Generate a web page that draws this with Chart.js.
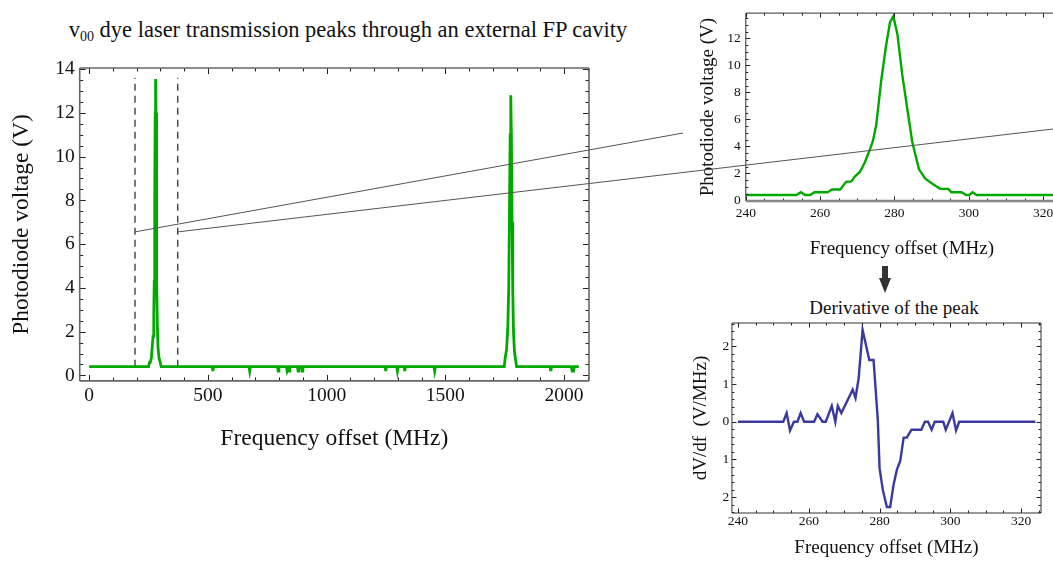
<!DOCTYPE html>
<html>
<head>
<meta charset="utf-8">
<script src="https://cdn.jsdelivr.net/npm/chart.js@4.4.0/dist/chart.umd.min.js"></script>
<style>
  html, body { margin: 0; padding: 0; background: #fff; overflow: hidden; width: 1053px; height: 561px; }
  canvas, .lbl { position: absolute; }
  .lbl { font-family: "Liberation Serif", "Times New Roman", serif; color: #111; text-align: center; white-space: nowrap; }
  .lbl sub { font-size: 14px; line-height: 0; vertical-align: -4px; }
</style>
</head>
<body>
<div class="lbl" style="left:0;top:17px;width:696px;font-size:22.5px;line-height:26px;">v<sub>00</sub> dye laser transmission peaks through an external FP cavity</div>
<div class="lbl" style="left:794px;top:297px;width:200px;font-size:19px;line-height:22px;">Derivative of the peak</div>
<canvas id="mainCanvas" width="600" height="462" style="left:0;top:0"></canvas>
<canvas id="peakCanvas" width="375" height="262" style="left:690px;top:0"></canvas>
<canvas id="derivCanvas" width="363" height="271" style="left:690px;top:290px"></canvas>
<canvas id="overlay" width="1053" height="561" style="left:0;top:0;pointer-events:none"></canvas>
<script>
// full scan (MHz, V)
var mainFreq = [0, 250, 254, 257, 262, 266, 269, 272, 274, 276, 278, 279.7, 281.5, 283, 285, 287, 290, 294, 299, 303,
  518, 521, 524, 673, 676, 679, 793, 796, 799, 831, 834, 838, 842, 845, 877, 880, 883, 894, 897, 900,
  1246, 1249, 1252, 1295, 1298, 1301, 1326, 1329, 1332, 1452, 1455, 1458,
  1748, 1752, 1758, 1763, 1767, 1770, 1773, 1775.5, 1778, 1781, 1784, 1787, 1791, 1796, 1800,
  1941, 1944, 1947, 2031, 2034, 2040, 2043, 2062];
var mainVolt = [0.4, 0.4, 0.6, 0.6, 0.8, 1.4, 1.8, 2.8, 4.3, 8.0, 12.0, 13.55, 12.0, 8.0, 4.3, 2.3, 1.25, 0.8, 0.6, 0.4,
  0.4, 0.2, 0.4, 0.4, 0.2, 0.4, 0.4, 0.2, 0.4, 0.4, 0.2, 0.3, 0.2, 0.4, 0.4, 0.2, 0.4, 0.4, 0.2, 0.4,
  0.4, 0.2, 0.4, 0.4, 0.2, 0.4, 0.4, 0.2, 0.4, 0.4, 0.2, 0.4,
  0.4, 0.8, 1.2, 2.2, 4.0, 7.5, 11.0, 12.8, 11.0, 7.0, 3.8, 2.0, 1.1, 0.7, 0.4,
  0.4, 0.2, 0.4, 0.4, 0.2, 0.2, 0.4, 0.4];
var windowFreq = [193, 373];
var windowVolt = [0.4, 13.6];
var connectorVolt = 6.56;

// zoom on the first peak
var peakFreq = [240, 253.6, 254.8, 256, 257.3, 258.5, 262, 263.2, 265.4, 267, 268.4, 269.4, 270.7, 272, 273.3, 274.2,
  275.1, 276.4, 277.7, 278.8, 279.7, 280.8, 282.1, 283.5, 284.8, 286.6, 288.3, 290.1, 291.2, 292.3, 294.5,
  295.3, 298, 299.3, 300.2, 301, 302.1, 324];
var peakVolt = [0.4, 0.4, 0.6, 0.4, 0.4, 0.6, 0.6, 0.8, 0.8, 1.37, 1.4, 1.78, 2.1, 2.8, 3.7, 4.4,
  5.6, 8.8, 11.4, 13.2, 13.65, 12.3, 9.3, 6.7, 4.3, 2.3, 1.6, 1.25, 1.05, 0.85, 0.85,
  0.6, 0.6, 0.4, 0.4, 0.6, 0.4, 0.4];

// derivative of the peak
var derivFreq = [240, 252.8, 253.75, 254.7, 255.8, 256.8, 257.7, 258.7, 261.5, 262.45, 263.9, 264.8, 266.5, 267.5, 268.2, 269.2,
  272.4, 273.2, 274.1, 275.2, 277.1, 278.3, 279.5, 280, 280.9, 282.05, 283, 283.95, 284.9, 285.85, 286.8, 287.7,
  289, 291.8, 292.8, 293.7, 294.7, 295.6, 298, 298.7, 300.6, 301.6, 302.5, 324];
var derivVal = [0, 0, 0.23, -0.23, 0, 0, 0.23, 0, 0, 0.2, 0, 0, 0.42, 0, 0.42, 0.23,
  0.85, 0.63, 1.16, 2.44, 1.64, 1.64, 0.05, -1.23, -1.8, -2.26, -2.26, -1.67, -1.27, -1.03, -0.42, -0.42,
  -0.21, -0.21, 0, 0, -0.21, 0, 0, -0.21, 0.23, -0.23, 0, 0];

var mainXTicks = [0, 500, 1000, 1500, 2000];
var mainYTicks = [0, 2, 4, 6, 8, 10, 12, 14];
var peakXTicks = [240, 260, 280, 300, 320];
var peakYTicks = [0, 2, 4, 6, 8, 10, 12];
var derivXTicks = [240, 260, 280, 300, 320];
var derivYTicks = [-2, -1, 0, 1, 2];
var derivYTickLabels = ['2', '1', '0', '1', '2'];

var green = '#00a800';
var navy = '#3a3a9e';
var serif = '"Liberation Serif", "Times New Roman", serif';

Chart.defaults.font.family = serif;
Chart.defaults.color = '#111';

function pts(xs, ys) { return xs.map(function (v, i) { return { x: v, y: ys[i] }; }); }
function fixTicks(list) { return function (s) { s.ticks = list.map(function (v) { return { value: v }; }); }; }

// Mathematica-like frame with inward ticks
var frameTicks = {
  id: 'frameTicks',
  afterDatasetsDraw: function (chart, args, o) {
    var ctx = chart.ctx, a = chart.chartArea, x = chart.scales.x, y = chart.scales.y;
    ctx.save();
    ctx.strokeStyle = o.tickColor;
    ctx.lineWidth = 1;
    function line(x0, y0, x1, y1) { ctx.beginPath(); ctx.moveTo(x0, y0); ctx.lineTo(x1, y1); ctx.stroke(); }
    function isMajor(list, v) { return list.some(function (m) { return Math.abs(m - v) < 1e-6; }); }
    for (var i = Math.ceil(x.min / o.xMinor); i * o.xMinor <= x.max; i++) {
      var v = i * o.xMinor, px = Math.round(x.getPixelForValue(v)) + 0.5;
      var len = isMajor(o.xMajor, v) ? o.majorLen : o.minorLen;
      if (o.sides.indexOf('b') >= 0) line(px, a.bottom, px, a.bottom - len);
      if (o.sides.indexOf('t') >= 0) line(px, a.top, px, a.top + len);
    }
    for (var j = Math.ceil(y.min / o.yMinor - 1e-9); j * o.yMinor <= y.max + 1e-9; j++) {
      var w = j * o.yMinor, py = Math.round(y.getPixelForValue(w)) + 0.5;
      var len2 = isMajor(o.yMajor, w) ? o.majorLen : o.minorLen;
      if (o.sides.indexOf('l') >= 0) line(a.left, py, a.left + len2, py);
      if (o.sides.indexOf('r') >= 0) line(a.right, py, a.right - len2, py);
    }
    ctx.strokeStyle = o.frameColor;
    ctx.lineWidth = o.frameWidth;
    if (o.sides.indexOf('l') >= 0) line(a.left, a.top, a.left, a.bottom);
    if (o.sides.indexOf('t') >= 0) line(a.left, a.top, a.right, a.top);
    if (o.sides.indexOf('r') >= 0) line(a.right, a.top, a.right, a.bottom);
    if (o.sides.indexOf('b') >= 0) {
      ctx.lineWidth = o.bottomWidth || o.frameWidth;
      ctx.strokeStyle = o.bottomColor || o.frameColor;
      line(a.left, a.bottom, a.right, a.bottom);
    }
    ctx.restore();
  }
};

function axis(min, max, ticks, tickSize, tickPad, title, titleSize, titlePad, labels) {
  return {
    type: 'linear', min: min, max: max,
    afterBuildTicks: fixTicks(ticks),
    grid: { display: false, drawTicks: false },
    border: { display: false },
    ticks: {
      font: { size: tickSize }, padding: tickPad, color: '#111', autoSkip: false, maxRotation: 0,
      callback: function (v) { return labels ? labels[ticks.indexOf(v)] : String(v); }
    },
    title: { display: true, text: title, font: { size: titleSize }, color: '#111', padding: titlePad }
  };
}

var mainChart = new Chart(document.getElementById('mainCanvas'), {
  type: 'line',
  data: {
    datasets: [
      { data: pts(mainFreq, mainVolt), borderColor: green, borderWidth: 2.8, pointRadius: 0, tension: 0 },
      { data: pts([windowFreq[0], windowFreq[0]], windowVolt), borderColor: '#222', borderWidth: 1.2, borderDash: [7, 5], pointRadius: 0 },
      { data: pts([windowFreq[1], windowFreq[1]], windowVolt), borderColor: '#222', borderWidth: 1.2, borderDash: [7, 5], pointRadius: 0 }
    ]
  },
  options: {
    responsive: false, animation: false,
    layout: { padding: { left: 0, right: 11, top: 68, bottom: 9.5 } },
    plugins: {
      legend: { display: false }, tooltip: { enabled: false },
      frameTicks: { sides: 'lbtr', xMinor: 100, yMinor: 0.5, xMajor: mainXTicks, yMajor: mainYTicks,
        majorLen: 6, minorLen: 3.5, tickColor: '#222', frameColor: '#666', frameWidth: 1.6 }
    },
    scales: {
      x: axis(-40, 2105, mainXTicks, 19.5, 3, 'Frequency offset (MHz)', 23.5, { top: 14, bottom: 0 }),
      y: axis(-0.25, 14.05, mainYTicks, 19.5, 5, 'Photodiode voltage (V)', 23.5, { top: 8, bottom: 14 })
    }
  },
  plugins: [frameTicks]
});

var peakChart = new Chart(document.getElementById('peakCanvas'), {
  type: 'line',
  data: { datasets: [{ data: pts(peakFreq, peakVolt), borderColor: green, borderWidth: 2.4, pointRadius: 0, tension: 0 }] },
  options: {
    responsive: false, animation: false,
    layout: { padding: { left: 0, right: 7, top: 9, bottom: 1.5 } },
    plugins: {
      legend: { display: false }, tooltip: { enabled: false },
      frameTicks: { sides: 'ltb', xMinor: 5, yMinor: 0.5, xMajor: peakXTicks, yMajor: peakYTicks,
        majorLen: 4.5, minorLen: 2.5, tickColor: '#222', frameColor: '#333', frameWidth: 1,
        bottomWidth: 2.5, bottomColor: '#888' }
    },
    scales: {
      x: axis(240, 324, peakXTicks, 13.5, 4, 'Frequency offset (MHz)', 19, { top: 12.5, bottom: 0 }),
      y: axis(-0.05, 13.88, peakYTicks, 13.5, 5, 'Photodiode voltage (V)', 19, { top: 6.5, bottom: 3 })
    }
  },
  plugins: [frameTicks]
});

var derivChart = new Chart(document.getElementById('derivCanvas'), {
  type: 'line',
  data: { datasets: [{ data: pts(derivFreq, derivVal), borderColor: navy, borderWidth: 2.4, pointRadius: 0, tension: 0 }] },
  options: {
    responsive: false, animation: false,
    layout: { padding: { left: 0, right: 12, top: 33, bottom: 1.5 } },
    plugins: {
      legend: { display: false }, tooltip: { enabled: false },
      frameTicks: { sides: 'lbtr', xMinor: 5, yMinor: 0.2, xMajor: derivXTicks, yMajor: derivYTicks,
        majorLen: 4.5, minorLen: 2.5, tickColor: '#222', frameColor: '#333', frameWidth: 1 }
    },
    scales: {
      x: axis(238.3, 325.6, derivXTicks, 13.5, 0, 'Frequency offset (MHz)', 19, { top: 7.5, bottom: 0 }),
      y: axis(-2.42, 2.62, derivYTicks, 13.5, 2.7, 'dV/df  (V/MHz)', 19, { top: 0, bottom: 7 }, derivYTickLabels)
    }
  },
  plugins: [frameTicks]
});

// connector lines from the dashed window to the zoom, and the arrow between insets
var ov = document.getElementById('overlay').getContext('2d');
var mx = mainChart.scales.x, my = mainChart.scales.y;
var cy = my.getPixelForValue(connectorVolt);
var connectorEnds = [[683, 133], [1053, 129]];
ov.strokeStyle = '#555';
ov.lineWidth = 1;
windowFreq.forEach(function (f, i) {
  ov.beginPath();
  ov.moveTo(mx.getPixelForValue(f), cy);
  ov.lineTo(connectorEnds[i][0], connectorEnds[i][1]);
  ov.stroke();
});
ov.fillStyle = '#333';
ov.fillRect(882, 266, 6, 13);
ov.beginPath();
ov.moveTo(879, 278); ov.lineTo(891, 278); ov.lineTo(885, 293); ov.closePath();
ov.fill();
</script>
</body>
</html>
